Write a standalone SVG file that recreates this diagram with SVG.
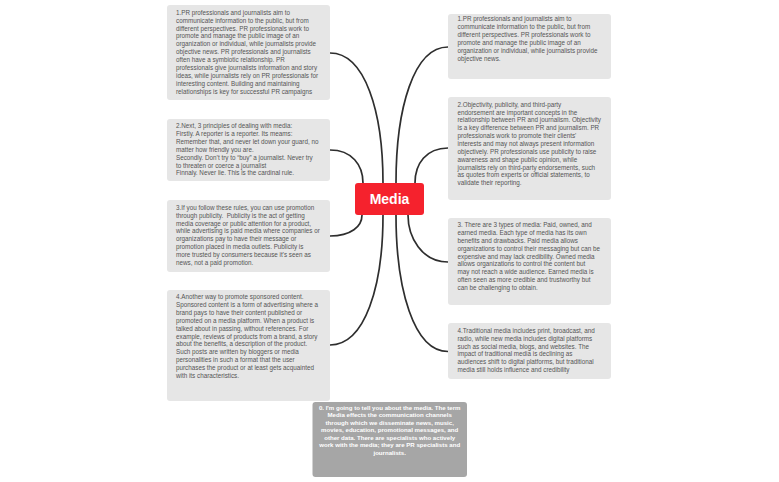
<svg xmlns="http://www.w3.org/2000/svg" width="779" height="482" viewBox="0 0 779 482">
<style>
.box{fill:#e6e6e6}
.t{font-family:"Liberation Sans",Arial,sans-serif;font-size:6.3px;fill:#555555}
.b{font-family:"Liberation Sans",Arial,sans-serif;font-size:6.1px;font-weight:bold;fill:#ffffff;text-anchor:middle}
.c{fill:none;stroke:#2e2e2e;stroke-width:1.7;stroke-linecap:round}
</style>
<rect width="779" height="482" fill="#ffffff"/>
<g id="connectors">
<path class="c" d="M330,53 C365,53 383,111.5 383,183"/>
<path class="c" d="M330,150 C351.8,150 363,164.9 363,183"/>
<path class="c" d="M448,47 C413.7,47 396,108 396,183"/>
<path class="c" d="M448,148 C426.2,148 415,163.8 415,183"/>
<path class="c" d="M330,236 C351.1,236 362,226.5 362,215"/>
<path class="c" d="M330,345 C365,345 383,286.5 383,215"/>
<path class="c" d="M448,262 C421.6,262 408,236.9 408,215"/>
<path class="c" d="M448,351.5 C413.7,351.5 396,289 396,215"/>
</g>
<g id="center">
<rect x="355" y="183" width="69" height="32" rx="3" fill="#f5222d"/>
<text x="389.5" y="204" font-family="'Liberation Sans',Arial,sans-serif" font-size="14" font-weight="bold" fill="#ffffff" text-anchor="middle">Media</text>
</g>
<g id="left1">
<rect class="box" x="167" y="5" width="163" height="95" rx="3"/>
<text class="t" x="176" y="14.7"><tspan x="176">1.PR professionals and journalists aim to</tspan><tspan x="176" dy="7.9">communicate information to the public, but from</tspan><tspan x="176" dy="7.9">different perspectives. PR professionals work to</tspan><tspan x="176" dy="7.9">promote and manage the public image of an</tspan><tspan x="176" dy="7.9">organization or individual, while journalists provide</tspan><tspan x="176" dy="7.9">objective news. PR professionals and journalists</tspan><tspan x="176" dy="7.9">often have a symbiotic relationship. PR</tspan><tspan x="176" dy="7.9">professionals give journalists information and story</tspan><tspan x="176" dy="7.9">ideas, while journalists rely on PR professionals for</tspan><tspan x="176" dy="7.9">interesting content. Building and maintaining</tspan><tspan x="176" dy="7.9">relationships is key for successful PR campaigns</tspan></text>
</g>
<g id="left2">
<rect class="box" x="167" y="119" width="163" height="62" rx="3"/>
<text class="t" x="176" y="128"><tspan x="176">2.Next, 3 principles of dealing with media:</tspan><tspan x="176" dy="7.9">Firstly. A reporter is a reporter. Its meams:</tspan><tspan x="176" dy="7.9">Remember that, and never let down your guard, no</tspan><tspan x="176" dy="7.9">matter how friendly you are.</tspan><tspan x="176" dy="7.9">Secondly. Don’t try to “buy” a journalist. Never try</tspan><tspan x="176" dy="7.9">to threaten or coerce a journalist</tspan><tspan x="176" dy="7.9">Finnaly. Never lie. This is the cardinal rule.</tspan></text>
</g>
<g id="left3">
<rect class="box" x="167" y="200" width="163" height="72" rx="3"/>
<text class="t" x="176" y="209.7"><tspan x="176">3.If you follow these rules, you can use promotion</tspan><tspan x="176" dy="7.9">through publicity.&#160; Publicity is the act of getting</tspan><tspan x="176" dy="7.9">media coverage or public attention for a product,</tspan><tspan x="176" dy="7.9">while advertising is paid media where companies or</tspan><tspan x="176" dy="7.9">organizations pay to have their message or</tspan><tspan x="176" dy="7.9">promotion placed in media outlets. Publicity is</tspan><tspan x="176" dy="7.9">more trusted by consumers because it's seen as</tspan><tspan x="176" dy="7.9">news, not a paid promotion.</tspan></text>
</g>
<g id="left4">
<rect class="box" x="167" y="290" width="163" height="111" rx="3"/>
<text class="t" x="176" y="299"><tspan x="176">4.Another way to promote sponsored content.</tspan><tspan x="176" dy="7.9">Sponsored content is a form of advertising where a</tspan><tspan x="176" dy="7.9">brand pays to have their content published or</tspan><tspan x="176" dy="7.9">promoted on a media platform. When a product is</tspan><tspan x="176" dy="7.9">talked about in passing, without references. For</tspan><tspan x="176" dy="7.9">example, reviews of products from a brand, a story</tspan><tspan x="176" dy="7.9">about the benefits, a description of the product.</tspan><tspan x="176" dy="7.9">Such posts are written by bloggers or media</tspan><tspan x="176" dy="7.9">personalities in such a format that the user</tspan><tspan x="176" dy="7.9">purchases the product or at least gets acquainted</tspan><tspan x="176" dy="7.9">with its characteristics.</tspan></text>
</g>
<g id="right1">
<rect class="box" x="448" y="14" width="163" height="65" rx="3"/>
<text class="t" x="457.5" y="21"><tspan x="457.5">1.PR professionals and journalists aim to</tspan><tspan x="457.5" dy="7.9">communicate information to the public, but from</tspan><tspan x="457.5" dy="7.9">different perspectives. PR professionals work to</tspan><tspan x="457.5" dy="7.9">promote and manage the public image of an</tspan><tspan x="457.5" dy="7.9">organization or individual, while journalists provide</tspan><tspan x="457.5" dy="7.9">objective news.</tspan></text>
</g>
<g id="right2">
<rect class="box" x="448" y="97" width="163" height="103" rx="3"/>
<text class="t" x="457.5" y="106.7"><tspan x="457.5">2.Objectivity, publicity, and third-party</tspan><tspan x="457.5" dy="7.85">endorsement are important concepts in the</tspan><tspan x="457.5" dy="7.85">relationship between PR and journalism. Objectivity</tspan><tspan x="457.5" dy="7.85">is a key difference between PR and journalism. PR</tspan><tspan x="457.5" dy="7.85">professionals work to promote their clients'</tspan><tspan x="457.5" dy="7.85">interests and may not always present information</tspan><tspan x="457.5" dy="7.85">objectively. PR professionals use publicity to raise</tspan><tspan x="457.5" dy="7.85">awareness and shape public opinion, while</tspan><tspan x="457.5" dy="7.85">journalists rely on third-party endorsements, such</tspan><tspan x="457.5" dy="7.85">as quotes from experts or official statements, to</tspan><tspan x="457.5" dy="7.85">validate their reporting.</tspan></text>
</g>
<g id="right3">
<rect class="box" x="448" y="218" width="163" height="87" rx="3"/>
<text class="t" x="457.5" y="226.7"><tspan x="457.5">3. There are 3 types of media: Paid, owned, and</tspan><tspan x="457.5" dy="7.95">earned media. Each type of media has its own</tspan><tspan x="457.5" dy="7.95">benefits and drawbacks. Paid media allows</tspan><tspan x="457.5" dy="7.95">organizations to control their messaging but can be</tspan><tspan x="457.5" dy="7.95">expensive and may lack credibility. Owned media</tspan><tspan x="457.5" dy="7.95">allows organizations to control the content but</tspan><tspan x="457.5" dy="7.95">may not reach a wide audience. Earned media is</tspan><tspan x="457.5" dy="7.95">often seen as more credible and trustworthy but</tspan><tspan x="457.5" dy="7.95">can be challenging to obtain.</tspan></text>
</g>
<g id="right4">
<rect class="box" x="448" y="323" width="163" height="56" rx="3"/>
<text class="t" x="457.5" y="332.7"><tspan x="457.5">4.Traditional media includes print, broadcast, and</tspan><tspan x="457.5" dy="7.9">radio, while new media includes digital platforms</tspan><tspan x="457.5" dy="7.9">such as social media, blogs, and websites. The</tspan><tspan x="457.5" dy="7.9">impact of traditional media is declining as</tspan><tspan x="457.5" dy="7.9">audiences shift to digital platforms, but traditional</tspan><tspan x="457.5" dy="7.9">media still holds influence and credibility</tspan></text>
</g>
<g id="intro">
<rect x="312.5" y="402" width="154.5" height="75" rx="3" fill="#a6a6a6"/>
<text class="b" x="389.7" y="409.5"><tspan x="389.7">0. I'm going to tell you about the media. The term</tspan><tspan x="389.7" dy="7.57">Media effects the communication channels</tspan><tspan x="389.7" dy="7.57">through which we disseminate news, music,</tspan><tspan x="389.7" dy="7.57">movies, education, promotional messages, and</tspan><tspan x="389.7" dy="7.57">other data. There are specialists who actively</tspan><tspan x="389.7" dy="7.57">work with the media; they are PR specialists and</tspan><tspan x="389.7" dy="7.57">journalists.</tspan></text>
</g>
</svg>
